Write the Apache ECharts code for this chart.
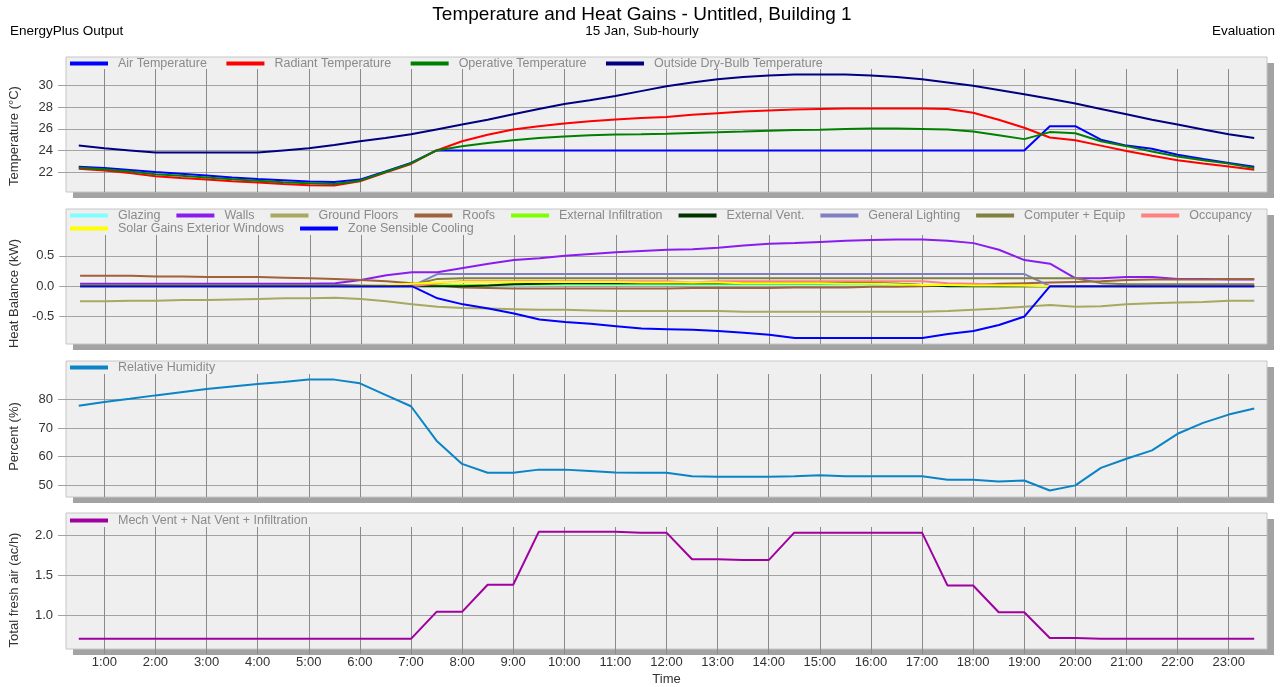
<!DOCTYPE html>
<html>
<head>
<meta charset="utf-8">
<script src="https://cdn.jsdelivr.net/npm/echarts@6/dist/echarts.min.js"></script>
<style>
  html, body { margin: 0; padding: 0; background: #fff; }
  #main { width: 1284px; height: 687px; }
</style>
</head>
<body>
<div id="main"></div>
<script>
// time of each sample, hours (half-hourly)
const hours = [0.5, 1, 1.5, 2, 2.5, 3, 3.5, 4, 4.5, 5, 5.5, 6, 6.5, 7, 7.5, 8, 8.5, 9, 9.5, 10,
  10.5, 11, 11.5, 12, 12.5, 13, 13.5, 14, 14.5, 15, 15.5, 16, 16.5, 17, 17.5, 18, 18.5, 19, 19.5,
  20, 20.5, 21, 21.5, 22, 22.5, 23, 23.5];
const hourTicks = [1, 2, 3, 4, 5, 6, 7, 8, 9, 10, 11, 12, 13, 14, 15, 16, 17, 18, 19, 20, 21, 22, 23];

// panel 1 - temperatures (°C)
const airTemp = [22.5, 22.37, 22.2, 22.0, 21.85, 21.68, 21.5, 21.35, 21.25, 21.13, 21.07, 21.3, 22.05, 22.85,
  24.0, 24.0, 24.0, 24.0, 24.0, 24.0, 24.0, 24.0, 24.0, 24.0, 24.0, 24.0, 24.0, 24.0, 24.0, 24.0, 24.0, 24.0,
  24.0, 24.0, 24.0, 24.0, 24.0, 24.0, 26.25, 26.25, 25.0, 24.45, 24.15, 23.6, 23.2, 22.85, 22.5];
const radiantTemp = [22.3, 22.15, 21.9, 21.62, 21.45, 21.3, 21.15, 21.03, 20.9, 20.78, 20.75, 21.15, 21.95, 22.75,
  24.0, 24.85, 25.45, 25.95, 26.25, 26.5, 26.7, 26.87, 27.0, 27.1, 27.3, 27.45, 27.6, 27.7, 27.8, 27.85, 27.9,
  27.9, 27.9, 27.9, 27.85, 27.5, 26.85, 26.1, 25.2, 24.95, 24.45, 23.95, 23.5, 23.1, 22.8, 22.52, 22.22];
const operativeTemp = [22.4, 22.25, 22.05, 21.8, 21.65, 21.5, 21.33, 21.2, 21.05, 20.95, 20.9, 21.2, 22.0, 22.8,
  24.0, 24.4, 24.7, 24.95, 25.15, 25.3, 25.4, 25.47, 25.5, 25.55, 25.62, 25.68, 25.75, 25.83, 25.9, 25.93, 25.98,
  26.03, 26.03, 26.0, 25.95, 25.75, 25.4, 25.05, 25.7, 25.6, 24.85, 24.4, 23.9, 23.45, 23.1, 22.78, 22.37];
const outsideTemp = [24.45, 24.2, 24.0, 23.8, 23.8, 23.8, 23.8, 23.8, 24.0, 24.2, 24.5, 24.85, 25.15, 25.5,
  25.95, 26.4, 26.85, 27.35, 27.85, 28.3, 28.65, 29.05, 29.5, 29.95, 30.3, 30.6, 30.8, 30.95, 31.05, 31.05, 31.05,
  30.95, 30.8, 30.6, 30.3, 30.0, 29.6, 29.2, 28.8, 28.35, 27.85, 27.35, 26.85, 26.4, 25.95, 25.5, 25.15];

// panel 2 - heat balance (kW)
const glazing = [0, 0, 0, 0, 0, 0, 0, 0, 0, 0, 0, 0, 0, 0, 0.0, 0.01, 0.01, 0.01, 0.015, 0.02, 0.02, 0.02,
  0.02, 0.02, 0.02, 0.02, 0.02, 0.02, 0.02, 0.02, 0.02, 0.02, 0.02, 0.01, 0, 0, 0, 0, 0, 0, 0, 0, 0, 0, 0, 0, 0];
const walls = [0.04, 0.04, 0.04, 0.04, 0.04, 0.04, 0.04, 0.04, 0.04, 0.04, 0.05, 0.1, 0.18, 0.23, 0.23, 0.3,
  0.37, 0.43, 0.46, 0.5, 0.53, 0.56, 0.58, 0.6, 0.61, 0.635, 0.67, 0.7, 0.71, 0.73, 0.75, 0.76, 0.77, 0.77,
  0.75, 0.71, 0.6, 0.43, 0.37, 0.13, 0.13, 0.15, 0.15, 0.12, 0.12, 0.11, 0.11];
const groundFloors = [-0.25, -0.25, -0.24, -0.24, -0.23, -0.23, -0.22, -0.21, -0.2, -0.2, -0.19, -0.21, -0.25,
  -0.3, -0.34, -0.36, -0.37, -0.38, -0.39, -0.39, -0.4, -0.41, -0.41, -0.41, -0.41, -0.41, -0.42, -0.42, -0.42,
  -0.42, -0.42, -0.42, -0.42, -0.42, -0.41, -0.39, -0.37, -0.34, -0.31, -0.34, -0.33, -0.3, -0.28, -0.27,
  -0.26, -0.24, -0.24];
const roofs = [0.17, 0.17, 0.17, 0.16, 0.16, 0.15, 0.15, 0.15, 0.14, 0.13, 0.12, 0.1, 0.08, 0.05, 0.01, -0.02,
  -0.03, -0.04, -0.04, -0.04, -0.04, -0.04, -0.04, -0.04, -0.03, -0.03, -0.03, -0.03, -0.02, -0.02, -0.02,
  -0.01, -0.01, 0.0, 0.01, 0.02, 0.04, 0.05, 0.06, 0.07, 0.08, 0.1, 0.11, 0.11, 0.11, 0.12, 0.12];
const extInfiltration = [0, 0, 0, 0, 0, 0, 0, 0, 0, 0, 0, 0, 0, 0, 0.01, 0.02, 0.02, 0.03, 0.03, 0.04, 0.04,
  0.04, 0.04, 0.04, 0.04, 0.04, 0.04, 0.04, 0.04, 0.04, 0.04, 0.04, 0.03, 0.02, 0.01, 0.01, 0, 0, 0, 0, 0, 0,
  0, 0, 0, 0, 0];
const extVent = [0, 0, 0, 0, 0, 0, 0, 0, 0, 0, 0, 0, 0, 0, 0, 0, 0.01, 0.03, 0.04, 0.05, 0.05, 0.05, 0.05, 0.05,
  0.05, 0.05, 0.05, 0.05, 0.05, 0.05, 0.05, 0.05, 0.04, 0.02, 0, 0, 0, 0, 0, 0, 0, 0, 0, 0, 0, 0, 0];
const lighting = [0, 0, 0, 0, 0, 0, 0, 0, 0, 0, 0, 0, 0, 0, 0.2, 0.2, 0.2, 0.2, 0.2, 0.2, 0.2, 0.2, 0.2, 0.2,
  0.2, 0.2, 0.2, 0.2, 0.2, 0.2, 0.2, 0.2, 0.2, 0.2, 0.2, 0.2, 0.2, 0.2, 0.0, 0, 0, 0, 0, 0, 0, 0, 0];
const computerEquip = [0.02, 0.02, 0.02, 0.02, 0.02, 0.02, 0.02, 0.02, 0.02, 0.02, 0.02, 0.02, 0.02, 0.02,
  0.12, 0.13, 0.13, 0.13, 0.13, 0.13, 0.13, 0.13, 0.13, 0.13, 0.13, 0.13, 0.13, 0.13, 0.13, 0.13, 0.13, 0.13,
  0.13, 0.13, 0.13, 0.13, 0.13, 0.13, 0.13, 0.13, 0.05, 0.03, 0.03, 0.03, 0.03, 0.03, 0.03];
const occupancy = [0, 0, 0, 0, 0, 0, 0, 0, 0, 0, 0, 0, 0, 0, 0.05, 0.08, 0.08, 0.08, 0.08, 0.08, 0.08, 0.08,
  0.08, 0.08, 0.06, 0.08, 0.08, 0.08, 0.08, 0.08, 0.08, 0.08, 0.08, 0.08, 0.05, 0.04, 0.02, 0.01, 0, 0, 0, 0,
  0, 0, 0, 0, 0];
const solarGains = [0, 0, 0, 0, 0, 0, 0, 0, 0, 0, 0, 0.01, 0.02, 0.04, 0.06, 0.07, 0.07, 0.07, 0.07, 0.07, 0.07,
  0.07, 0.06, 0.06, 0.06, 0.06, 0.05, 0.05, 0.05, 0.05, 0.04, 0.04, 0.03, 0.02, 0.02, 0.01, 0.01, 0.01, 0, 0,
  0, 0, 0, 0, 0, 0, 0];
const zoneCooling = [0, 0, 0, 0, 0, 0, 0, 0, 0, 0, 0, 0, 0, 0, -0.2, -0.3, -0.37, -0.45, -0.55, -0.59, -0.62,
  -0.66, -0.7, -0.71, -0.72, -0.74, -0.77, -0.8, -0.855, -0.855, -0.855, -0.855, -0.855, -0.855, -0.79, -0.74,
  -0.64, -0.5, 0, 0, 0, 0, 0, 0, 0, 0, 0];

// panel 3 - relative humidity (%)
const relHumidity = [77.8, 79.1, 80.2, 81.4, 82.5, 83.6, 84.5, 85.4, 86.1, 86.9, 86.9, 85.6, 81.6, 77.6, 65.6,
  57.5, 54.4, 54.4, 55.5, 55.5, 55.0, 54.5, 54.4, 54.4, 53.2, 53.0, 53.0, 53.0, 53.2, 53.5, 53.2, 53.2, 53.2,
  53.2, 52.0, 52.0, 51.4, 51.7, 48.2, 50.0, 56.1, 59.3, 62.2, 68.0, 71.8, 74.7, 76.8];

// panel 4 - total fresh air (ac/h)
const freshAir = [0.7, 0.7, 0.7, 0.7, 0.7, 0.7, 0.7, 0.7, 0.7, 0.7, 0.7, 0.7, 0.7, 0.7, 1.04, 1.04, 1.38, 1.38,
  2.045, 2.045, 2.045, 2.045, 2.035, 2.035, 1.7, 1.7, 1.69, 1.69, 2.035, 2.035, 2.035, 2.035, 2.035, 2.035,
  1.37, 1.37, 1.035, 1.035, 0.71, 0.71, 0.7, 0.7, 0.7, 0.7, 0.7, 0.7, 0.7];

const tempTicks = [22, 24, 26, 28, 30];
const heatTicks = [-0.5, 0, 0.5];
const rhTicks = [50, 60, 70, 80];
const airTicks = [1.0, 1.5, 2.0];

const FONT = "'Liberation Sans', Arial, sans-serif";
const H_GRID = '#a3a3a3';
const V_GRID = '#8a8a8a';

// panel frames: [top of box, top of plot, bottom]
const panels = [[57, 69, 192], [209, 235, 344], [361, 374, 497], [513, 527, 649]];
const boxLeft = 66, boxRight = 1267;

const pairs = list => list.map((v, i) => [hours[i], v]);

function lineSeries(name, data, color, idx) {
  return {
    name: name, type: 'line', xAxisIndex: idx, yAxisIndex: idx,
    data: pairs(data), showSymbol: false, symbol: 'none',
    color: color, lineStyle: { width: 2, color: color }, itemStyle: { color: color }
  };
}

function xAxis(idx, last) {
  return {
    type: 'value', gridIndex: idx, min: 0.25, max: 23.75,
    axisLine: { show: false },
    axisTick: { show: last, length: 9, lineStyle: { color: V_GRID }, customValues: hourTicks },
    axisLabel: {
      show: last, customValues: hourTicks, margin: 11, color: '#333', fontSize: 13, fontFamily: FONT,
      formatter: v => v + ':00'
    },
    splitLine: { show: true, lineStyle: { color: V_GRID, width: 1 } },
    name: last ? 'Time' : '', nameLocation: 'middle', nameGap: 28,
    nameTextStyle: { color: '#333', fontSize: 13, fontFamily: FONT }
  };
}

// shift pushes the rotated axis name a little further down
function yAxis(idx, name, min, max, ticks, fmt, shift) {
  return {
    type: 'value', gridIndex: idx, min: min, max: max,
    axisLine: { show: false },
    axisTick: { show: true, length: 8, lineStyle: { color: H_GRID }, customValues: ticks },
    axisLabel: { customValues: ticks, margin: 13, color: '#333', fontSize: 13, fontFamily: FONT, formatter: fmt },
    splitLine: { show: true, lineStyle: { color: H_GRID, width: 1 } },
    name: name, nameLocation: 'middle', nameRotate: 90, nameGap: 45,
    nameTextStyle: { color: '#333', fontSize: 13, fontFamily: FONT, padding: [0, shift || 0, 0, 0] }
  };
}

function legend(top, data, gap) {
  return {
    top: top, left: 70, padding: 0, data: data, icon: 'rect', itemWidth: 38, itemHeight: 4, itemGap: gap || 16,
    textStyle: { color: '#8a8a8a', fontSize: 12.5, fontFamily: FONT, padding: [0, 0, 0, 5] },
    selectedMode: false
  };
}

const frames = [];
panels.forEach(p => {
  frames.push({ type: 'rect', z: -20, shape: { x: boxLeft + 7, y: p[0] + 6, width: boxRight - boxLeft, height: p[2] - p[0] },
    style: { fill: '#a3a3a3' } });
  frames.push({ type: 'rect', z: -10, shape: { x: boxLeft, y: p[0], width: boxRight - boxLeft, height: p[2] - p[0] },
    style: { fill: '#eeefee', stroke: '#c6c6c6', lineWidth: 1 } });
});

const subStyle = { fontSize: 13.5, fontWeight: 'normal', color: '#000', fontFamily: FONT };

const option = {
  animation: false,
  backgroundColor: '#fff',
  title: [
    { text: 'Temperature and Heat Gains - Untitled, Building 1', left: 'center', top: 5, padding: 0,
      textStyle: { fontSize: 19, fontWeight: 'normal', color: '#000', fontFamily: FONT } },
    { text: 'EnergyPlus Output', left: 10, top: 24, padding: 0, textStyle: subStyle },
    { text: '15 Jan, Sub-hourly', left: 'center', top: 24, padding: 0, textStyle: subStyle },
    { text: 'Evaluation', right: 9, top: 24, padding: 0, textStyle: subStyle }
  ],
  graphic: { elements: frames },
  legend: [
    legend(57, ['Air Temperature', 'Radiant Temperature', 'Operative Temperature', 'Outside Dry-Bulb Temperature'], 19.5),
    legend(209, ['Glazing', 'Walls', 'Ground Floors', 'Roofs', 'External Infiltration', 'External Vent.',
      'General Lighting', 'Computer + Equip', 'Occupancy']),
    legend(222, ['Solar Gains Exterior Windows', 'Zone Sensible Cooling']),
    legend(361, ['Relative Humidity']),
    legend(514, ['Mech Vent + Nat Vent + Infiltration'])
  ],
  grid: panels.map(p => ({ left: boxLeft, right: 1284 - boxRight, top: p[1], height: p[2] - p[1] })),
  xAxis: [xAxis(0, false), xAxis(1, false), xAxis(2, false), xAxis(3, true)],
  yAxis: [
    yAxis(0, 'Temperature (°C)', 20.15, 31.55, tempTicks, v => String(v), 11),
    yAxis(1, 'Heat Balance (kW)', -0.954, 0.844, heatTicks, v => v.toFixed(1), 8),
    yAxis(2, 'Percent (%)', 45.95, 88.86, rhTicks, v => String(v), 2),
    yAxis(3, 'Total fresh air (ac/h)', 0.623, 2.106, airTicks, v => v.toFixed(1), 8)
  ],
  series: [
    lineSeries('Air Temperature', airTemp, '#0000ff', 0),
    lineSeries('Radiant Temperature', radiantTemp, '#ff0000', 0),
    lineSeries('Operative Temperature', operativeTemp, '#008000', 0),
    lineSeries('Outside Dry-Bulb Temperature', outsideTemp, '#000080', 0),
    lineSeries('Glazing', glazing, '#80ffff', 1),
    lineSeries('Walls', walls, '#8a1cf0', 1),
    lineSeries('Ground Floors', groundFloors, '#a8a860', 1),
    lineSeries('Roofs', roofs, '#a0623a', 1),
    lineSeries('External Infiltration', extInfiltration, '#80ff00', 1),
    lineSeries('External Vent.', extVent, '#003300', 1),
    lineSeries('General Lighting', lighting, '#8080c0', 1),
    lineSeries('Computer + Equip', computerEquip, '#808040', 1),
    lineSeries('Occupancy', occupancy, '#ff8080', 1),
    lineSeries('Solar Gains Exterior Windows', solarGains, '#ffff00', 1),
    lineSeries('Zone Sensible Cooling', zoneCooling, '#0000ff', 1),
    lineSeries('Relative Humidity', relHumidity, '#0a84c6', 2),
    lineSeries('Mech Vent + Nat Vent + Infiltration', freshAir, '#a000a0', 3)
  ]
};

const chart = echarts.init(document.getElementById('main'), null, { renderer: 'canvas' });
chart.setOption(option);
</script>
</body>
</html>
